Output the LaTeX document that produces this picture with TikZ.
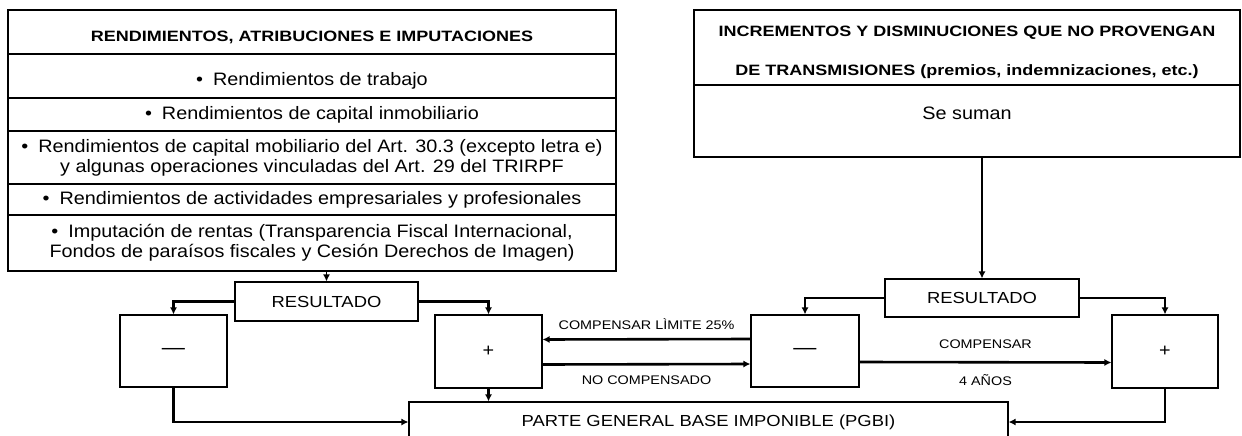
\documentclass[tikz,border=0pt]{standalone}
\usepackage{fontspec}
\setmainfont{Liberation Sans}[FakeStretch=1.1]
\newfontfamily\hdwide{Liberation Sans}[FakeStretch=1.2]
\newfontfamily\lblfont{Liberation Sans}[FakeStretch=1.15]
\usetikzlibrary{arrows.meta}

\begin{document}
\begin{tikzpicture}[x=1pt, y=-1pt,
  cell/.style={draw, line width=1.3pt, inner sep=0pt, align=center, minimum width=608pt, font=\fontsize{18}{20}\selectfont},
  head/.style={font=\hdwide\bfseries\fontsize{15}{39}\selectfont, align=center},
  box/.style={draw, line width=1.1pt, inner sep=0pt, font=\lblfont\fontsize{16}{18}\selectfont},
  link/.style={line width=2.6pt, -{Latex[length=7pt,width=7pt]}},
  tag/.style={font=\lblfont\fontsize{12.5}{14}\selectfont}]
\useasboundingbox (0,0) rectangle (1242,436);
\clip (0,0) rectangle (1242,436);

% left table
\node [cell, minimum height=44pt, label={[name=theadtxt, head, yshift=-5pt]center:RENDIMIENTOS, ATRIBUCIONES E IMPUTACIONES}] (thead) at (312,32) {};
\node [cell, minimum height=44pt, label={[name=trabtxt, yshift=-5pt, font=\fontsize{18}{20}\selectfont]center:\textbullet\hspace{10pt}Rendimientos de trabajo}] (trab) at (312,76) {};
\node [cell, minimum height=33pt] (tinm) at (312,114.5) {\textbullet\hspace{10pt}Rendimientos de capital inmobiliario};
\node [cell, minimum height=53pt] (tmob) at (312,157.5) {\textbullet\hspace{10pt}Rendimientos de capital mobiliario del Art. 30.3 (excepto letra e)\\y algunas operaciones vinculadas del Art. 29 del TRIRPF};
\node [cell, minimum height=31pt] (tact) at (312,199.5) {\textbullet\hspace{10pt}Rendimientos de actividades empresariales y profesionales};
\node [cell, minimum height=56pt] (timp) at (312,243) {\textbullet\hspace{10pt}Imputación de rentas (Transparencia Fiscal Internacional,\\Fondos de paraísos fiscales y Cesión Derechos de Imagen)};

% right table
\node [cell, minimum width=546pt, minimum height=75pt, label={[name=iheadtxt, head, yshift=-5pt]center:INCREMENTOS Y DISMINUCIONES QUE NO PROVENGAN\\DE TRANSMISIONES (premios, indemnizaciones, etc.)}] (ihead) at (967,47.5) {};
\node [cell, minimum width=546pt, minimum height=72pt, label={[name=ssumtxt, yshift=8pt, font=\fontsize{18}{20}\selectfont]center:Se suman}] (ssum) at (967,121) {};

% resultados
\node [box, minimum width=183pt, minimum height=39pt] (lres) at (326.5,301.5) {RESULTADO};
\node [box, minimum width=194pt, minimum height=38pt] (rres) at (982,298) {RESULTADO};

\node [box, minimum width=107pt, minimum height=72pt, font=\fontsize{21}{22}\selectfont] (lneg) at (173.5,351) {\textemdash};
\node [box, minimum width=107pt, minimum height=73pt, font=\fontsize{18}{20}\selectfont] (lpos) at (488.5,351.5) {+};
\node [box, minimum width=108pt, minimum height=72pt, font=\fontsize{21}{22}\selectfont] (rneg) at (805,351) {\textemdash};
\node [box, minimum width=106pt, minimum height=73pt, font=\fontsize{18}{20}\selectfont] (rpos) at (1165,351.5) {+};

\node [box, minimum width=599pt, minimum height=40pt] (pgbi) at (708.5,422) {PARTE GENERAL BASE IMPONIBLE (PGBI)};

\draw[link, line width=1.8pt] (timp.south -| lres.north) -- (lres.north);
\draw[link] (ssum.south -| rres.north) -- (rres.north);

\draw[link] (lres.west) -| (lneg.north);
\draw[link] (lres.east) -| (lpos.north);
\draw[link] (rres.west) -| (rneg.north);
\draw[link] (rres.east) -| (rpos.north);

\draw[link] ([yshift=12pt]rneg.west) -- ([yshift=12pt]lpos.east) node[tag, midway, above=5pt] {COMPENSAR LÌMITE 25\%};
\draw[link] ([yshift=-13pt]lpos.east) -- ([yshift=-13pt]rneg.west) node[tag, midway, below=7pt] {NO COMPENSADO};
\draw[link] ([yshift=-11pt]rneg.east) -- ([yshift=-11pt]rpos.west) node[tag, midway, above=9pt] {COMPENSAR} node[tag, midway, below=8pt] {4 AÑOS};

\draw[link] (lneg.south) |- (pgbi.west);
\draw[link] (lpos.south) -- (lpos.south |- pgbi.north);
\draw[link] (rpos.south) |- (pgbi.east);
\end{tikzpicture}
\end{document}
